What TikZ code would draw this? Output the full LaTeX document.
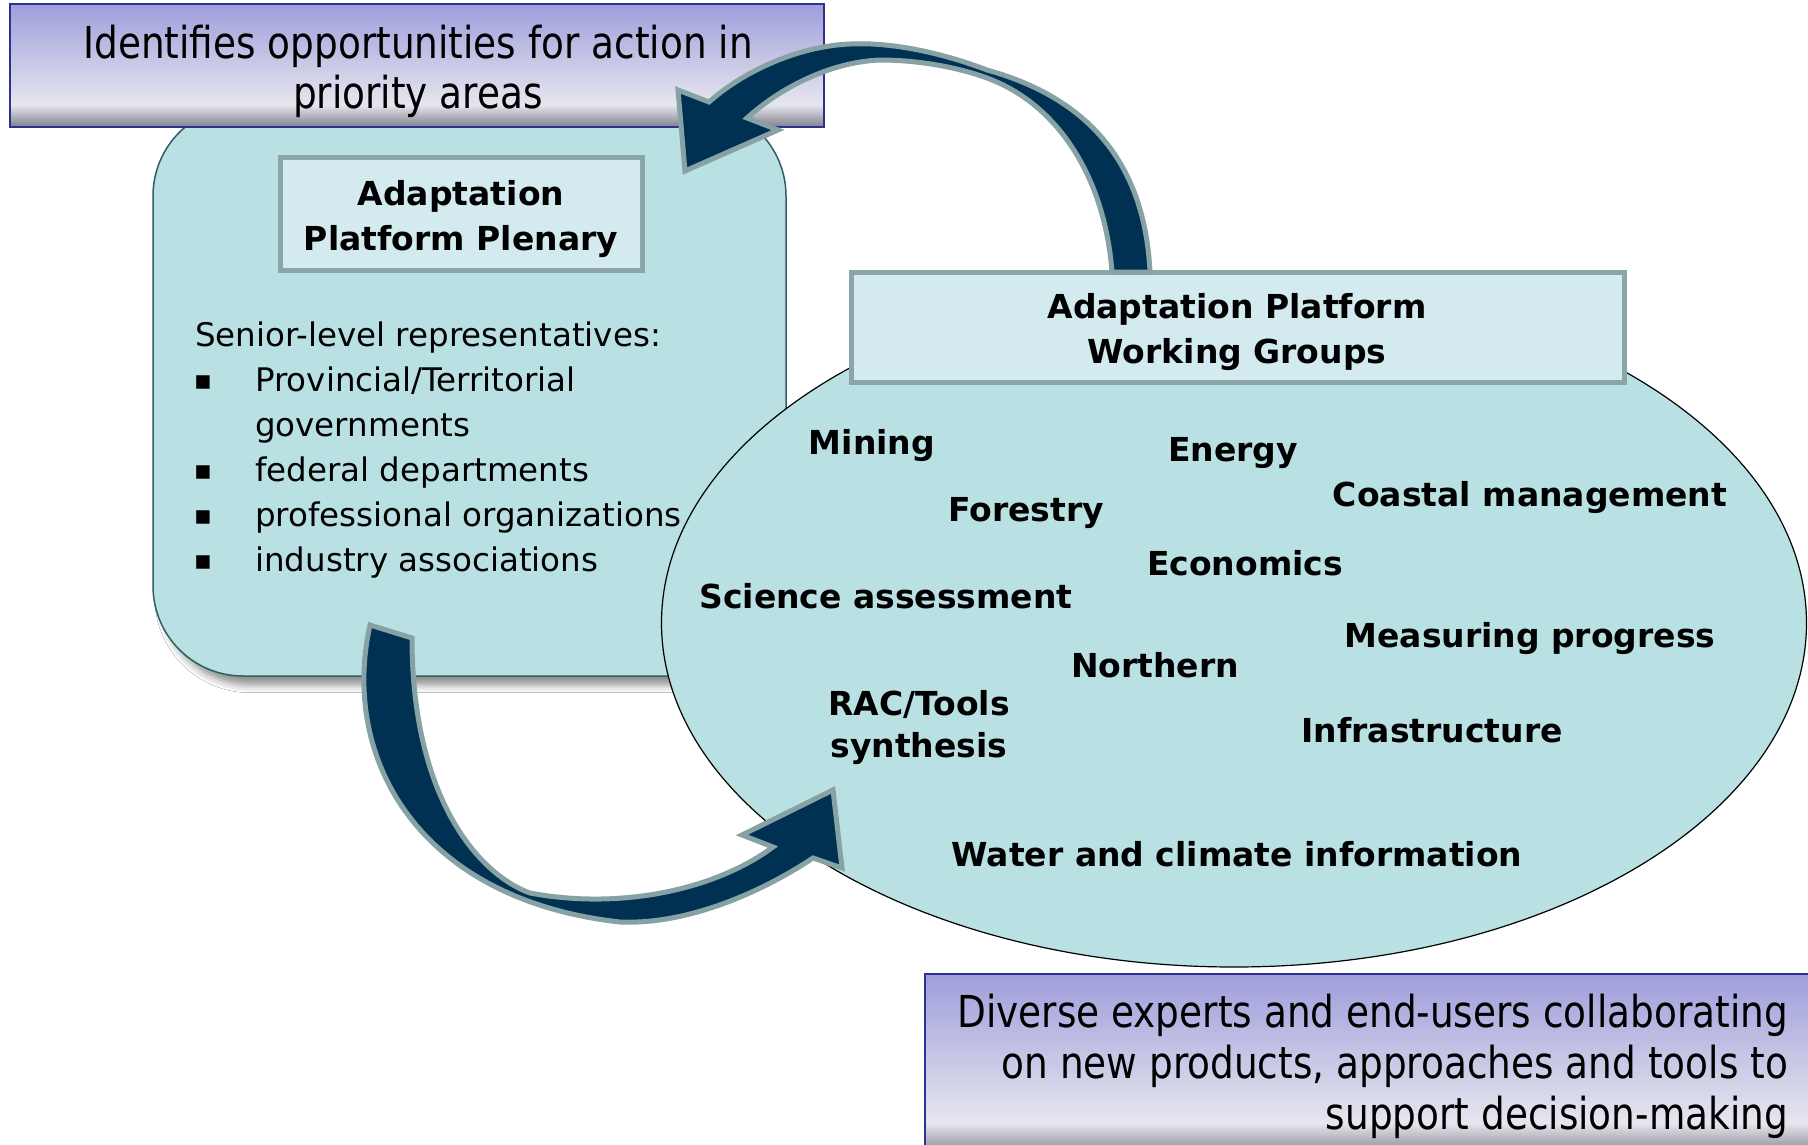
\documentclass[tikz,border=0pt]{standalone}
\usepackage{fontspec}
\setmainfont{DejaVu Sans}
\newfontfamily\narrowfont[FakeStretch=0.85]{DejaVu Sans}
\usetikzlibrary{shapes.geometric,shadows.blur}
\definecolor{boxfill}{HTML}{B9E0E3}
\definecolor{boxedge}{HTML}{2F5E63}
\definecolor{titlefill}{HTML}{D3EBEE}
\definecolor{titleedge}{HTML}{8BA6A9}
\definecolor{navy}{HTML}{003153}
\definecolor{arrowedge}{HTML}{86A2A5}
\definecolor{lblpurple}{HTML}{9E9EDC}
\definecolor{lblmid}{HTML}{E6E6EE}
\definecolor{lblgray}{HTML}{80808C}
\definecolor{lbledge}{HTML}{2E3192}
\pgfdeclareverticalshading{lblshade}{100bp}{color(0bp)=(lblgray); color(25bp)=(lblgray); color(34bp)=(lblmid); color(75bp)=(lblpurple); color(100bp)=(lblpurple)}
\tikzset{
  panel/.style={draw=boxedge, line width=1.5pt, fill=boxfill, rounded corners=90pt, inner sep=0pt},
  titlebox/.style={draw=titleedge, line width=5pt, fill=titlefill, inner sep=0pt},
  lblbox/.style={draw=lbledge, line width=1.5pt, shading=lblshade, inner sep=0pt},
  arrowshape/.style={fill=navy, draw=arrowedge, line width=5pt, line join=miter},
  wg/.style={font=\fontsize{33}{40}\selectfont\bfseries, anchor=base, inner sep=0pt},
  body/.style={font=\fontsize{32.5}{40}\selectfont, anchor=base west, inner sep=0pt},
  bul/.style={font=\fontsize{27}{40}\selectfont, anchor=base, inner sep=0pt},
  lbl/.style={font=\narrowfont\fontsize{44}{51}\selectfont, inner sep=0pt},
}
\begin{document}
\begin{tikzpicture}[x=1pt,y=-1pt]
\useasboundingbox (0,0) rectangle (1808,1145);
\clip (0,0) rectangle (1808,1145);
\fill[white] (0,0) rectangle (1808,1145);

% left panel
\node[panel, minimum width=633pt, minimum height=570pt,
  blur shadow={shadow xshift=0pt, shadow yshift=-18pt, shadow scale=0.97, shadow blur radius=8pt, shadow opacity=45}]
  (plenary) at (469.5,391) {};
% ellipse
\node[ellipse, draw=black, line width=1.2pt, fill=boxfill, minimum width=1145pt,
  minimum height=688pt, inner sep=0pt] (wgell) at (1234,623) {};
% title boxes
\node[titlebox, minimum width=362pt, minimum height=112pt] (plenbox) at (461,214) {};
\node[titlebox, minimum width=773pt, minimum height=110pt] (wgbox) at (1237.5,327) {};
% label boxes
\node[lblbox, minimum width=814pt, minimum height=123pt] (toplbl) at (417,65.5) {};
\node[lblbox, minimum width=890pt, minimum height=182pt, anchor=north west] (botlbl) at (924,973) {};

% title texts
\node[wg] (pt1) at (461,205) {Adaptation};
\node[wg] (pt2) at (461,250) {Platform Plenary};
\node[wg] (wt1) at (1237,318) {Adaptation Platform};
\node[wg] (wt2) at (1237,363) {Working Groups};

% body list
\node[body] (sr) at (195,346) {Senior-level representatives:};
\node[bul] (b1) at (203,389) {▪};
\node[body] (i1) at (255,391) {Provincial/Territorial};
\node[body] (i1b) at (255,436) {governments};
\node[bul] (b2) at (203,479) {▪};
\node[body] (i2) at (255,481) {federal departments};
\node[bul] (b3) at (203,524) {▪};
\node[body] (i3) at (255,526) {professional organizations};
\node[bul] (b4) at (203,569) {▪};
\node[body] (i4) at (255,571) {industry associations};

% working groups
\node[wg] (mining) at (872,454) {Mining};
\node[wg] (energy) at (1233,461) {Energy};
\node[wg] (forestry) at (1026,521) {Forestry};
\node[wg] (coastal) at (1530,506) {Coastal management};
\node[wg] (econ) at (1245,575) {Economics};
\node[wg] (science) at (886,608) {Science assessment};
\node[wg] (measure) at (1530,647) {Measuring progress};
\node[wg] (northern) at (1155,677) {Northern};
\node[wg] (rac) at (919,715) {RAC/Tools};
\node[wg] (synth) at (919,757) {synthesis};
\node[wg] (infra) at (1432,742) {Infrastructure};
\node[wg] (water) at (1237,866) {Water and climate information};

% label texts
\node[lbl, anchor=base] (tl1) at (418,59) {Identifies opportunities for action in};
\node[lbl, anchor=base] (tl2) at (418,109) {priority areas};
\node[lbl, anchor=base east] (bl1) at (1788,1027) {Diverse experts and end-users collaborating};
\node[lbl, anchor=base east] (bl2) at (1788,1078) {on new products, approaches and tools to};
\node[lbl, anchor=base east] (bl3) at (1788,1129) {support decision-making};

% top curved arrow (working groups -> plenary)
\draw[arrowshape] (1150,272) .. controls (1145,170) and (1095,100) .. (987,70)
  .. controls (940,52) and (890,42) .. (850,44)
  .. controls (800,46) and (745,70) .. (709,102) -- (678,90) -- (685,171) -- (778,130) -- (747,118)
  .. controls (780,88) and (830,62) .. (880,60)
  .. controls (920,60) and (960,68) .. (987,78)
  .. controls (1060,105) and (1105,180) .. (1112,272) -- cycle;
% bottom curved arrow (plenary -> working groups)
\draw[arrowshape] (370,625) .. controls (340,760) and (420,900) .. (620,922)
  .. controls (690,925) and (765,890) .. (813,858) -- (842,868) -- (833,790) -- (742,835) -- (773,847)
  .. controls (715,890) and (620,910) .. (530,893)
  .. controls (480,875) and (412,800) .. (412,638) -- cycle;
\end{tikzpicture}
\end{document}
